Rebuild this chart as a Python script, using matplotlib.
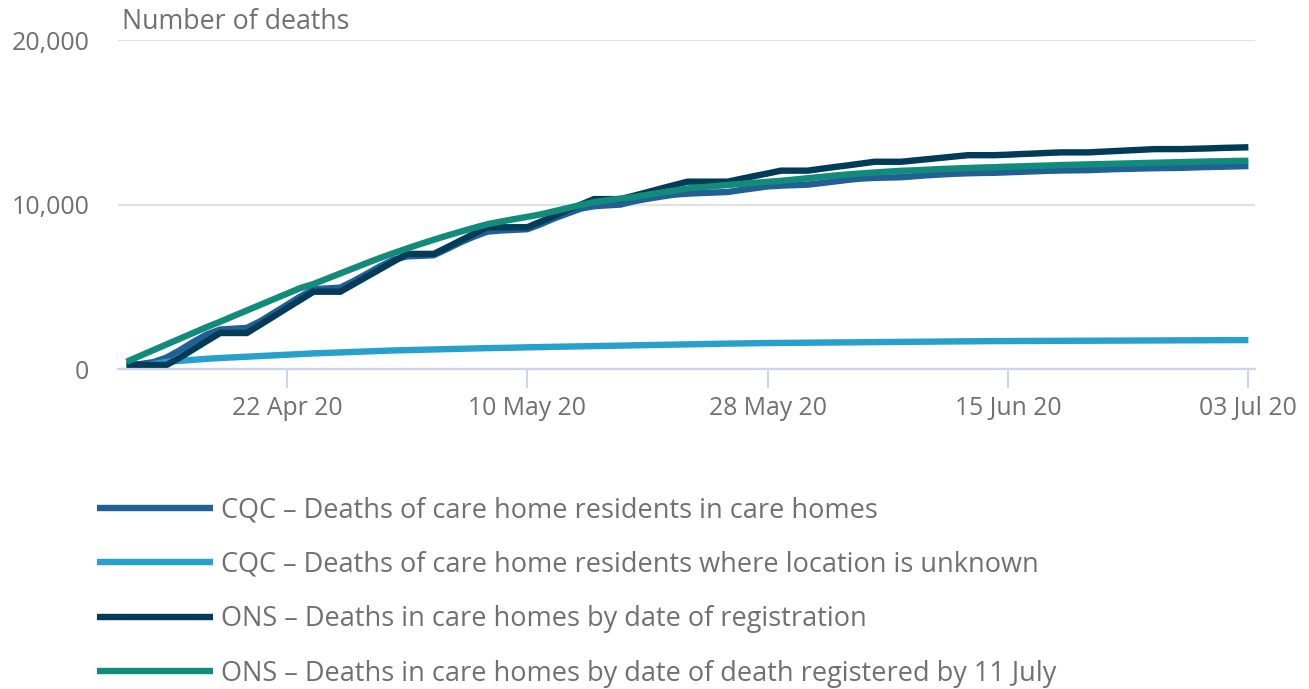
import matplotlib
matplotlib.use("Agg")
import matplotlib.pyplot as plt
import matplotlib.dates as mdates
import pandas as pd

plt.rcParams['font.family'] = ['Open Sans', 'DejaVu Sans']

# daily cumulative deaths, 10 Apr 2020 to 03 Jul 2020
dates = pd.date_range("2020-04-10", "2020-07-03", freq="D")

cqc_care_homes = [
    250, 300, 420, 700, 1150, 1650, 2100, 2400, 2450, 2500,
    2900, 3400, 3900, 4400, 4850, 4900, 4950, 5350, 5800, 6250,
    6650, 6850, 6880, 6920, 7300, 7700, 8050, 8350, 8420, 8460,
    8500, 8800, 9150, 9450, 9750, 9900, 9950, 10000, 10200, 10350,
    10480, 10600, 10660, 10700, 10730, 10760, 10880, 10990, 11100, 11150,
    11180, 11210, 11300, 11400, 11500, 11580, 11620, 11640, 11660, 11720,
    11780, 11830, 11870, 11900, 11920, 11930, 11960, 11990, 12020, 12050,
    12070, 12080, 12090, 12120, 12150, 12170, 12190, 12210, 12220, 12230,
    12260, 12280, 12300, 12320, 12340,
]

cqc_unknown = [
    150, 200, 300, 440, 500, 560, 620, 670, 710, 750,
    790, 830, 870, 910, 950, 980, 1010, 1040, 1070, 1100,
    1130, 1150, 1170, 1190, 1210, 1230, 1250, 1270, 1285, 1300,
    1320, 1335, 1350, 1365, 1380, 1395, 1410, 1425, 1440, 1455,
    1470, 1485, 1500, 1515, 1530, 1545, 1555, 1570, 1580, 1587,
    1594, 1601, 1608, 1615, 1622, 1629, 1636, 1643, 1650, 1657,
    1664, 1671, 1678, 1685, 1692, 1698, 1700, 1704, 1707, 1710,
    1714, 1717, 1720, 1724, 1727, 1730, 1734, 1737, 1740, 1744,
    1747, 1750, 1754, 1757, 1760,
]

ons_registration = [
    250, 250, 250, 250, 700, 1200, 1700, 2190, 2190, 2190,
    2690, 3190, 3700, 4200, 4700, 4700, 4700, 5160, 5620, 6080,
    6540, 7000, 7000, 7000, 7400, 7810, 8220, 8620, 8620, 8620,
    8620, 8960, 9300, 9650, 9990, 10330, 10330, 10330, 10540, 10750,
    10970, 11180, 11390, 11390, 11390, 11390, 11560, 11730, 11890, 12060,
    12060, 12060, 12170, 12280, 12380, 12490, 12600, 12600, 12600, 12680,
    12760, 12840, 12920, 13000, 13000, 13000, 13030, 13070, 13100, 13140,
    13170, 13170, 13170, 13210, 13250, 13290, 13330, 13370, 13370, 13370,
    13390, 13410, 13440, 13460, 13480,
]

ons_death = [
    440, 800, 1150, 1500, 1850, 2200, 2550, 2875, 3220, 3560,
    3900, 4240, 4580, 4920, 5170, 5490, 5810, 6130, 6450, 6760,
    7050, 7330, 7600, 7860, 8110, 8350, 8580, 8800, 8960, 9110,
    9250, 9400, 9590, 9780, 9970, 10150, 10260, 10360, 10460, 10590,
    10720, 10850, 10980, 11050, 11120, 11190, 11250, 11320, 11380, 11440,
    11520, 11600, 11680, 11760, 11830, 11890, 11950, 12000, 12050, 12080,
    12120, 12160, 12190, 12220, 12250, 12270, 12300, 12320, 12350, 12370,
    12400, 12420, 12440, 12460, 12480, 12500, 12520, 12540, 12560, 12580,
    12600, 12620, 12630, 12650, 12660,
]

labels = [
    "CQC \u2013 Deaths of care home residents in care homes",
    "CQC \u2013 Deaths of care home residents where location is unknown",
    "ONS \u2013 Deaths in care homes by date of registration",
    "ONS \u2013 Deaths in care homes by date of death registered by 11 July",
]
colors = ["#206095", "#27a0cc", "#003c57", "#118c7b"]
series = [cqc_care_homes, cqc_unknown, ons_registration, ons_death]

tick_dates = pd.to_datetime(["2020-04-22", "2020-05-10", "2020-05-28",
                             "2020-06-15", "2020-07-03"])

grey = "#707071"
axis_col = "#ccd4e8"

fig = plt.figure(figsize=(13.09, 6.89), dpi=100)
ax = fig.add_axes([0.0901, 0.4644, 0.8687, 0.4775])

for vals, col, lab in zip(series, colors, labels):
    ax.plot(dates, vals, color=col, lw=4.6, label=lab,
            solid_joinstyle="miter", solid_capstyle="butt")

ax.set_ylim(0, 20000)
ax.set_xlim(dates[0] - pd.Timedelta(days=0.65), dates[-1] + pd.Timedelta(days=0.5))
ax.set_yticks([0, 10000, 20000])
ax.set_yticklabels(["0", "10,000", "20,000"])
ax.set_xticks(tick_dates)
ax.xaxis.set_major_formatter(mdates.DateFormatter("%d %b %y"))

ax.grid(axis="y", color="#e2e2e2", lw=1.6)
ax.set_axisbelow(True)
for s in ["top", "right", "left"]:
    ax.spines[s].set_visible(False)
ax.spines["bottom"].set_color(axis_col)
ax.spines["bottom"].set_linewidth(1.6)

ax.tick_params(axis="y", length=0, pad=20.5, labelsize=18, labelcolor=grey)
ax.tick_params(axis="x", length=14, width=1.4, color=axis_col, pad=5.5,
               labelsize=17.8, labelcolor=grey)

fig.text(122 / 1309, 1 - 22 / 689, "Number of deaths", fontsize=19.3,
         color=grey, va="center", ha="left")

leg = fig.legend(loc="upper left", bbox_to_anchor=(97 / 1309, 1 - 496 / 689),
                 frameon=False, fontsize=19.5, handlelength=4.28,
                 handletextpad=0.3, labelspacing=0.98, borderpad=0,
                 borderaxespad=0)
for t in leg.get_texts():
    t.set_color(grey)

fig.savefig("out.png", dpi=100)
